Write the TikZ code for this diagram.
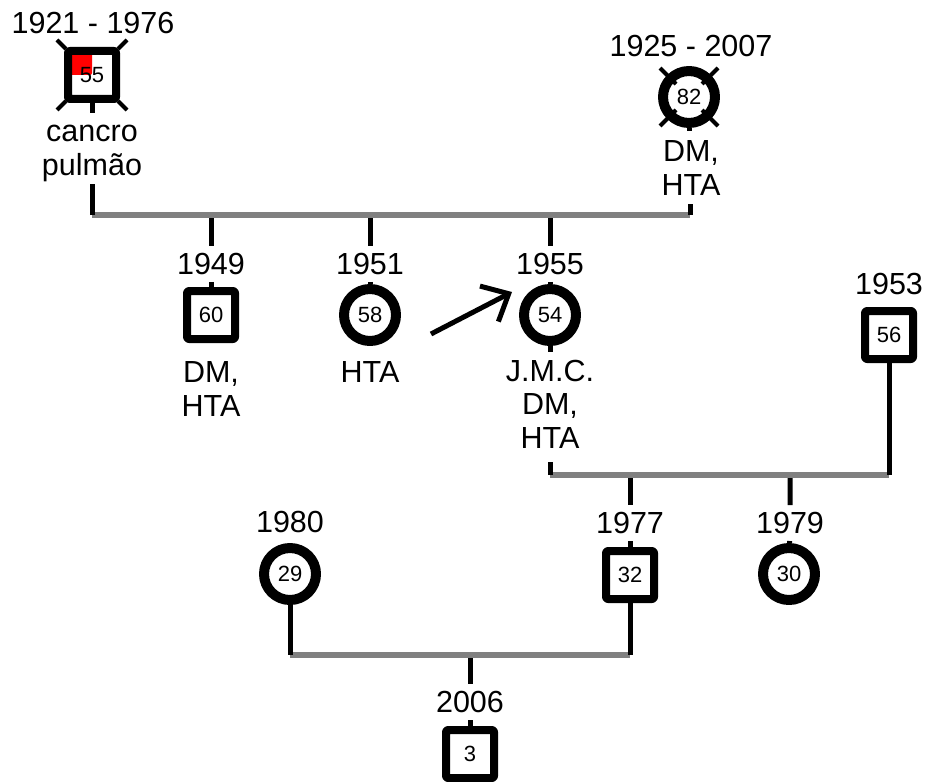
\documentclass[tikz,border=0pt]{standalone}
\usepackage{fontspec}
\setmainfont{Liberation Sans}
\usetikzlibrary{arrows.meta}
\definecolor{bondgray}{RGB}{128,128,128}
\begin{document}
\begin{tikzpicture}[x=1pt,y=-1pt,line join=round,
		font=\fontsize{30.5}{33.5}\selectfont,
		male/.style={draw,line width=8pt,rounded corners=2pt,fill=white,minimum size=48pt,inner sep=0pt,font=\fontsize{22}{24}\selectfont},
		female/.style={circle,draw,line width=10pt,fill=white,minimum size=52pt,inner sep=0pt,font=\fontsize{22}{24}\selectfont},
		yr/.style={inner xsep=2pt,inner ysep=7pt},
		note/.style={align=center,anchor=base,inner sep=0pt},
		kid/.style={line width=5pt},
		bond/.style={line width=6pt,draw=bondgray},
		dead/.style={line width=4pt}]
		\useasboundingbox (0,0) rectangle (928,781);
		\node[male,path picture={\fill[red] (path picture bounding box.north west) rectangle (path picture bounding box.center);}] (p21) at (92,75) {55};
		\node[yr] (y21) at (93,23) {1921 - 1976};
		\node[note] (c21) at (92,175) {cancro\\pulmão};
		\node[female] (p25) at (689,97) {82};
		\node[yr] (y25) at (691,46) {1925 - 2007};
		\node[note] (c25) at (691,195) {DM,\\HTA};
		\node[male] (p49) at (211,315) {60};
		\node[yr] (y49) at (211,264) {1949};
		\node[note] (c49) at (211,416) {DM,\\HTA};
		\node[female] (p51) at (370,315) {58};
		\node[yr] (y51) at (370,264) {1951};
		\node[note] (c51) at (370,382) {HTA};
		\node[female] (p55) at (550,315) {54};
		\node[yr] (y55) at (550,264) {1955};
		\node[note] (c55) at (550,448) {J.M.C.\\DM,\\HTA};
		\node[male] (p53) at (889,335) {56};
		\node[yr] (y53) at (889,284) {1953};
		\node[female] (p80) at (290,574) {29};
		\node[yr] (y80) at (290,522) {1980};
		\node[male] (p77) at (630,575) {32};
		\node[yr] (y77) at (630,523) {1977};
		\node[female] (p79) at (789,574) {30};
		\node[yr] (y79) at (790,523) {1979};
		\node[male] (p06) at (470,754) {3};
		\node[yr] (y06) at (470,702) {2006};
		\coordinate (m1a) at (92,215);
		\coordinate (m1b) at (690,215);
		\coordinate (s49) at (211,215);
		\coordinate (s51) at (370,215);
		\coordinate (s55) at (550,215);
		\coordinate (m2a) at (550,475);
		\coordinate (m2b) at (889,475);
		\coordinate (s77) at (630,475);
		\coordinate (s79) at (790,475);
		\coordinate (m3a) at (290,655);
		\coordinate (m3b) at (630,655);
		\coordinate (s06) at (470,655);
		\foreach \n in {49,51,55,77,79,06}
		\draw[kid] (s\n) -- (y\n) (y\n) -- (p\n);
		\draw[bond] (m1a) -- (m1b);
		\draw[bond] (m2a) -- (m2b);
		\draw[bond] (m3a) -- (m3b);
		\draw[kid] (m1a) -- ++(0,-31);
		\draw[kid] (m1b) -- ++(0,-11);
		\draw[kid] (m2a) -- ++(0,-13);
		\draw[kid] (p53) -- (m2b);
		\draw[kid] (p80) -- (m3a);
		\draw[kid] (p77) -- (m3b);
		\draw[kid] (p21.south) -- ++(0,10);
		\draw[kid] (p25.south) -- ++(0,3);
		\draw[kid] (p55.south) -- ++(0,6);
		\foreach \sx/\sy in {1/1,1/-1,-1/1,-1/-1}{
			\draw[dead,shift={(p21.center)}] (26*\sx,26*\sy) -- (35*\sx,35*\sy);
			\draw[dead,shift={(p25.center)}] (13*\sx,13*\sy) -- (29*\sx,29*\sy);
		}
		\coordinate (pb1) at (431,334);
		\coordinate (pb2) at (512,292);
		\draw[kid,-{Straight Barb[length=22pt,width=40pt]}] (pb1) -- (pb2);
\end{tikzpicture}
\end{document}
